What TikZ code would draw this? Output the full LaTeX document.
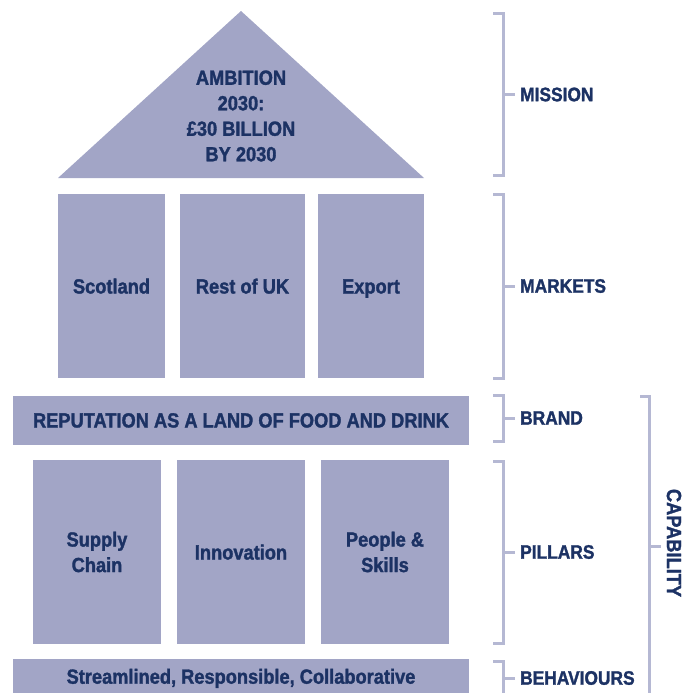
\documentclass[tikz,border=0pt]{standalone}
\usepackage{fontspec}
\setmainfont{Liberation Sans Bold}[FakeStretch=0.89, FakeBold=1.5]
\definecolor{housefill}{HTML}{A2A5C6}
\definecolor{navy}{HTML}{1C3264}
\definecolor{brackline}{HTML}{B5B8D3}

\begin{document}
\begin{tikzpicture}[x=1pt,y=-1pt,
  box/.style={fill=housefill, inner sep=0pt, text=navy, align=center,
    font=\fontsize{20.5}{25.5}\selectfont},
  oneline/.style={text height=15pt, text depth=0pt},
  lab/.style={anchor=west, inner sep=0pt, text=navy,
    font=\fontsize{19.5}{22}\selectfont},
  brk/.style={draw=brackline, line width=3pt}]
  \useasboundingbox (0,0) rectangle (697,693);

  % roof
  \fill [housefill] (58,178) -- (241,11) -- (424,178) -- cycle;
  \node [box, fill=none] (ambition) at (241,116) {AMBITION\\2030:\\£30 BILLION\\BY 2030};

  % markets
  \node [box, oneline, minimum width=107, minimum height=184] (scotland) at (111.5,286) {Scotland};
  \node [box, oneline, minimum width=125, minimum height=184] (restuk) at (242.5,286) {Rest of UK};
  \node [box, oneline, minimum width=106, minimum height=184] (export) at (371,286) {Export};

  % brand
  \node [box, oneline, minimum width=456, minimum height=49] (reputation) at (241,420) {REPUTATION AS A LAND OF FOOD AND DRINK};

  % pillars
  \node [box, minimum width=128, minimum height=184] (supply) at (97,552) {Supply\\Chain};
  \node [box, oneline, minimum width=128, minimum height=184] (innovation) at (241,552) {Innovation};
  \node [box, minimum width=128, minimum height=184] (people) at (385,552) {People \&\\Skills};

  % behaviours
  \node [box, oneline, minimum width=456, minimum height=34, anchor=north] (streamlined) at (241,659) {Streamlined, Responsible, Collaborative};

  % brackets
  \foreach \top/\bot/\txt/\nm in {14/175/MISSION/mission, 194/378/MARKETS/markets,
      395/441/BRAND/brand, 461/643/PILLARS/pillars} {
    \draw [brk] (493,\top) -- (503,\top) -- (503,\bot) -- (493,\bot);
    \draw [brk] (503,{(\top+\bot)/2}) -- (515,{(\top+\bot)/2});
    \node [lab] (\nm) at (520,{(\top+\bot)/2}) {\txt};
  }
  \draw [brk] (493,661) -- (503,661) -- (503,697);
  \draw [brk] (503,678) -- (515,678);
  \node [lab] (behaviours) at (520,678) {BEHAVIOURS};

  \draw [brk] (640,396) -- (649,396) -- (649,697);
  \draw [brk] (649,546) -- (661,546);
  \node [lab, anchor=center, rotate=-90, font=\fontsize{20.5}{22}\selectfont] (capability) at (674,543) {CAPABILITY};
\end{tikzpicture}
\end{document}
